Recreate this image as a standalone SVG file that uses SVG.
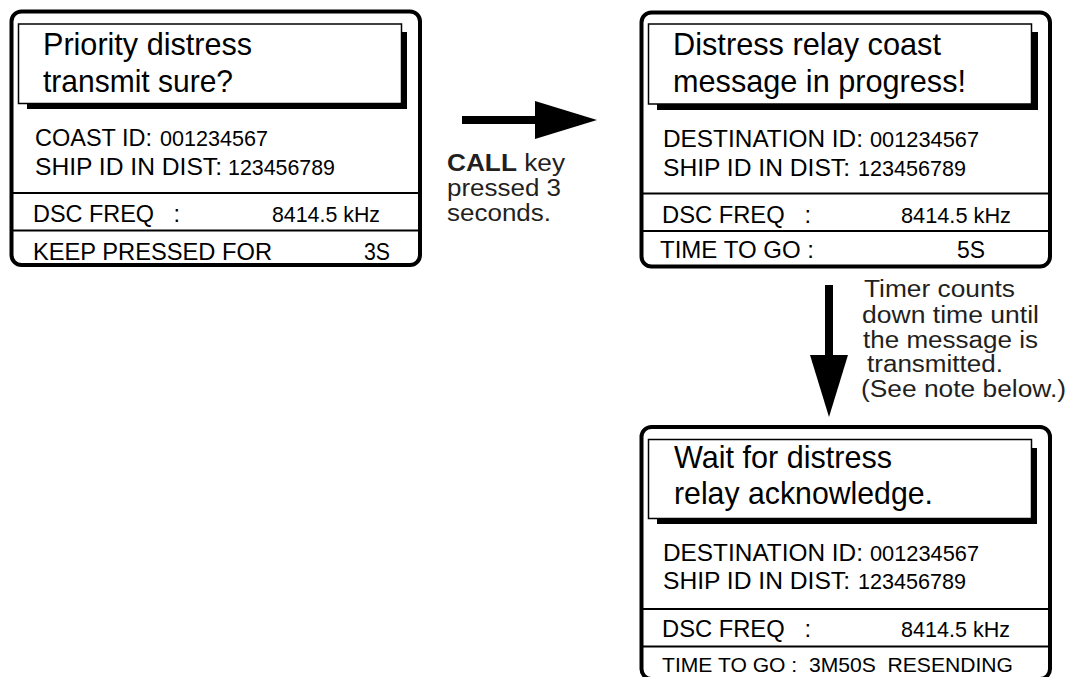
<svg xmlns="http://www.w3.org/2000/svg" width="1067" height="677" viewBox="0 0 1067 677">
<style>
.frame{fill:#fff;stroke:#000;stroke-width:4}
.shadow{fill:#000}
.tbox{fill:#fff;stroke:#000;stroke-width:1.5}
.sep{stroke:#000;stroke-width:2}
text{font-family:"Liberation Sans",Arial,Helvetica,sans-serif;fill:#000}
.title{font-size:30.5px}
.lbl{font-size:24px}
.num{font-size:21.5px}
.small{font-size:21px}
.note{font-size:23px;fill:#231f20}
.shaft{fill:none;stroke:#000;stroke-width:8}
</style>
<defs>
<marker id="head" markerUnits="userSpaceOnUse" markerWidth="62" markerHeight="38" refX="0" refY="19" orient="auto" overflow="visible">
<path d="M0,0 L62,19 L0,38 Z" fill="#000"/>
</marker>
</defs>
<rect width="1067" height="677" fill="#fff"/>

<g id="node-confirm">
<rect class="frame" x="11.5" y="11.5" width="408.5" height="253.5" rx="10"/>
<rect class="shadow" x="27" y="32" width="380" height="77"/>
<rect class="tbox" x="18.5" y="24" width="383" height="79.5"/>
<text class="title" x="43" y="55" textLength="209" lengthAdjust="spacingAndGlyphs">Priority distress</text>
<text class="title" x="43" y="92" textLength="190" lengthAdjust="spacingAndGlyphs">transmit sure?</text>
<text class="lbl" x="35" y="146" textLength="117" lengthAdjust="spacingAndGlyphs">COAST ID:</text>
<text class="num" x="160" y="146" textLength="108" lengthAdjust="spacingAndGlyphs">001234567</text>
<text class="lbl" x="35" y="174.5" textLength="187" lengthAdjust="spacingAndGlyphs">SHIP ID IN DIST:</text>
<text class="num" x="228" y="174.5" textLength="107" lengthAdjust="spacingAndGlyphs">123456789</text>
<line class="sep" x1="11.5" y1="193" x2="420" y2="193"/>
<text class="lbl" x="33" y="222" textLength="147" lengthAdjust="spacingAndGlyphs" xml:space="preserve">DSC FREQ   :</text>
<text class="num" x="272" y="222" textLength="108" lengthAdjust="spacingAndGlyphs">8414.5 kHz</text>
<line class="sep" x1="11.5" y1="230.5" x2="420" y2="230.5"/>
<text class="lbl" x="33" y="260" textLength="239" lengthAdjust="spacingAndGlyphs">KEEP PRESSED FOR</text>
<text class="lbl" x="364" y="260" textLength="26" lengthAdjust="spacingAndGlyphs">3S</text>
</g>

<g id="node-relay">
<rect class="frame" x="641.5" y="12.5" width="408.5" height="254" rx="10"/>
<rect class="shadow" x="657" y="32" width="381" height="78"/>
<rect class="tbox" x="648.5" y="24" width="383" height="80"/>
<text class="title" x="673" y="55" textLength="268" lengthAdjust="spacingAndGlyphs">Distress relay coast</text>
<text class="title" x="673" y="92" textLength="293" lengthAdjust="spacingAndGlyphs">message in progress!</text>
<text class="lbl" x="663" y="146.5" textLength="200" lengthAdjust="spacingAndGlyphs">DESTINATION ID:</text>
<text class="num" x="870" y="146.5" textLength="109" lengthAdjust="spacingAndGlyphs">001234567</text>
<text class="lbl" x="663" y="175.5" textLength="187" lengthAdjust="spacingAndGlyphs">SHIP ID IN DIST:</text>
<text class="num" x="858" y="175.5" textLength="108" lengthAdjust="spacingAndGlyphs">123456789</text>
<line class="sep" x1="641.5" y1="193.5" x2="1050" y2="193.5"/>
<text class="lbl" x="662" y="223" textLength="149" lengthAdjust="spacingAndGlyphs" xml:space="preserve">DSC FREQ   :</text>
<text class="num" x="901" y="223" textLength="110" lengthAdjust="spacingAndGlyphs">8414.5 kHz</text>
<line class="sep" x1="641.5" y1="231" x2="1050" y2="231"/>
<text class="lbl" x="660" y="258" textLength="154" lengthAdjust="spacingAndGlyphs">TIME TO GO :</text>
<text class="lbl" x="957" y="258" textLength="28" lengthAdjust="spacingAndGlyphs">5S</text>
</g>

<g id="node-wait">
<rect class="frame" x="641.5" y="427" width="408.5" height="252" rx="10"/>
<rect class="shadow" x="657" y="448" width="380" height="76"/>
<rect class="tbox" x="648.5" y="439.5" width="383" height="79"/>
<text class="title" x="674" y="468" textLength="218" lengthAdjust="spacingAndGlyphs">Wait for distress</text>
<text class="title" x="674" y="504" textLength="259" lengthAdjust="spacingAndGlyphs">relay acknowledge.</text>
<text class="lbl" x="663" y="560.5" textLength="200" lengthAdjust="spacingAndGlyphs">DESTINATION ID:</text>
<text class="num" x="870" y="560.5" textLength="109" lengthAdjust="spacingAndGlyphs">001234567</text>
<text class="lbl" x="663" y="588.5" textLength="187" lengthAdjust="spacingAndGlyphs">SHIP ID IN DIST:</text>
<text class="num" x="858" y="588.5" textLength="108" lengthAdjust="spacingAndGlyphs">123456789</text>
<line class="sep" x1="641.5" y1="609" x2="1050" y2="609"/>
<text class="lbl" x="662" y="637" textLength="149" lengthAdjust="spacingAndGlyphs" xml:space="preserve">DSC FREQ   :</text>
<text class="num" x="901" y="637" textLength="109" lengthAdjust="spacingAndGlyphs">8414.5 kHz</text>
<line class="sep" x1="641.5" y1="646.5" x2="1050" y2="646.5"/>
<text class="small" x="662" y="672" textLength="351" lengthAdjust="spacingAndGlyphs" xml:space="preserve">TIME TO GO :  3M50S  RESENDING</text>
</g>

<g id="connectors">
<path class="shaft" d="M462,120 H535" marker-end="url(#head)"/>
<path class="shaft" d="M829,285 V355" marker-end="url(#head)"/>
</g>

<g id="label-call">
<text class="note" x="447" y="171" textLength="118" lengthAdjust="spacingAndGlyphs"><tspan font-weight="bold">CALL</tspan> key</text>
<text class="note" x="447" y="196" textLength="114" lengthAdjust="spacingAndGlyphs">pressed 3</text>
<text class="note" x="447" y="221" textLength="104" lengthAdjust="spacingAndGlyphs">seconds.</text>
</g>

<g id="label-timer">
<text class="note" x="864" y="297" textLength="151" lengthAdjust="spacingAndGlyphs">Timer counts</text>
<text class="note" x="862" y="322.5" textLength="177" lengthAdjust="spacingAndGlyphs">down time until</text>
<text class="note" x="863" y="347.5" textLength="175" lengthAdjust="spacingAndGlyphs">the message is</text>
<text class="note" x="867" y="372" textLength="136" lengthAdjust="spacingAndGlyphs">transmitted.</text>
<text class="note" x="861" y="397" textLength="205" lengthAdjust="spacingAndGlyphs">(See note below.)</text>
</g>
</svg>
